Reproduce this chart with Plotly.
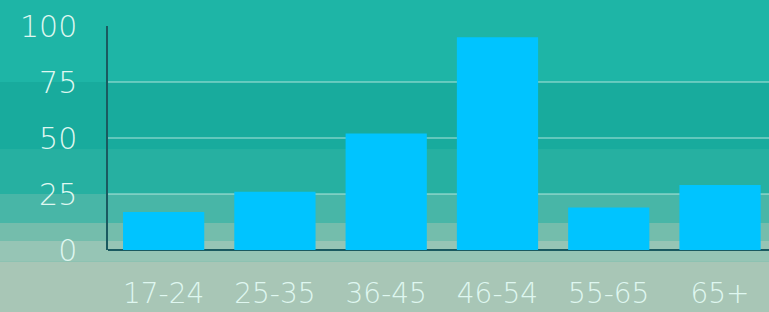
import plotly.graph_objects as go

categories = ["17-24", "25-35", "36-45", "46-54", "55-65", "65+"]
values = [17, 26, 52, 95, 19, 29]
y_ticks = [0, 25, 50, 75, 100]

fig = go.Figure()
fig.add_trace(go.Bar(
    x=categories, y=values,
    marker=dict(color="#00c4ff", line=dict(width=0)),
    width=0.73,
))

# watercolor-like background bands (paper coordinates)
bands = [
    (1.2, 0.75, "#1eb5a6"),
    (0.75, 0.45, "#18ab9d"),
    (0.45, 0.25, "#26b0a1"),
    (0.25, 0.12, "#48b6a7"),
    (0.12, 0.04, "#74bdac"),
    (0.04, -0.05, "#96c5b5"),
    (-0.05, -0.3, "#a8c6b6"),
]
for y1, y0, c in bands:
    fig.add_shape(type="rect", xref="paper", yref="paper", x0=-0.2, x1=1.1,
                  y0=y0, y1=y1, fillcolor=c, line=dict(width=0), layer="below")

font = dict(family="DejaVu Sans, Open Sans, sans-serif", color="#dff7f0", size=29, weight=200)

fig.update_layout(
    width=769, height=312,
    margin=dict(l=108, r=0, t=26, b=62),
    paper_bgcolor="#1eb5a6",
    plot_bgcolor="rgba(0,0,0,0)",
    showlegend=False,
    font=font,
    xaxis=dict(
        range=[-0.5, 5.44],
        showgrid=False, showline=False, zeroline=False,
        ticks="", ticklabelstandoff=24,
        tickfont=dict(size=28),
    ),
    yaxis=dict(
        range=[0, 100], tickvals=y_ticks,
        showgrid=True, gridcolor="rgba(210,242,235,0.4)", gridwidth=1.5,
        showline=True, linecolor="#1a5a60", linewidth=1.5,
        zeroline=True, zerolinecolor="#1a5a60", zerolinewidth=2,
        ticks="", ticklabelstandoff=23,
        tickfont=dict(size=30),
    ),
)

fig.write_html("out.html", config={"displayModeBar": False},
               post_script="document.body.style.margin='0';document.body.style.padding='0';")
